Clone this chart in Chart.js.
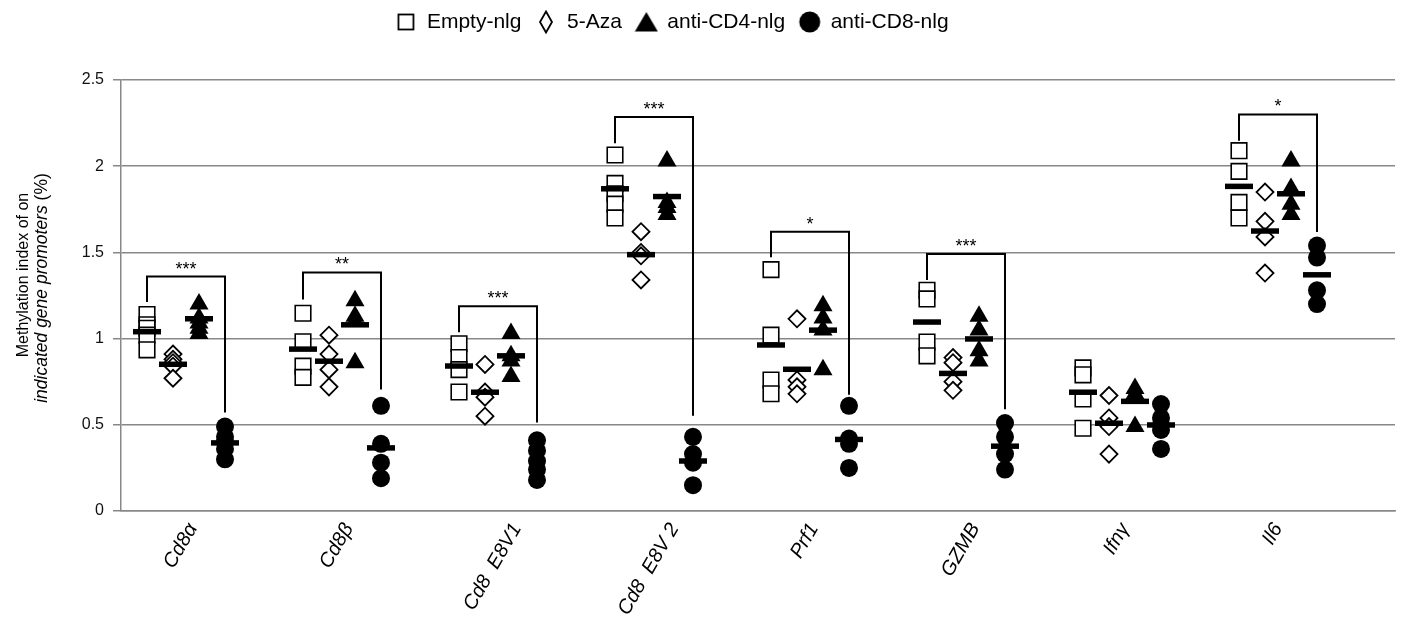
<!DOCTYPE html>
<html>
<head>
<meta charset="utf-8">
<script src="https://cdn.jsdelivr.net/npm/chart.js@4/dist/chart.umd.min.js"></script>
<style>
html,body{margin:0;padding:0;background:#fff;}
#wrap{width:1408px;height:623px;}
</style>
</head>
<body>
<div id="wrap"><canvas id="c"></canvas></div>
<script>
// genes on the x axis
const categories = ['Cd8α','Cd8β','Cd8  E8V1','Cd8  E8V 2','Prf1','GZMB','Ifnγ','Il6'];
const seriesNames = ['Empty-nlg','5-Aza','anti-CD4-nlg','anti-CD8-nlg'];
const yTicks = [0,0.5,1,1.5,2,2.5];

// individual mice, one list per gene
const emptyNlg = [
  [1.14,1.08,1.06,1.02,0.935],
  [1.147,0.982,0.84,0.775],
  [0.97,0.89,0.82,0.69],
  [2.065,1.90,1.84,1.78,1.70],
  [1.40,1.02,0.76,0.68],
  [1.28,1.23,0.98,0.90],
  [0.83,0.79,0.65,0.48],
  [2.09,1.97,1.79,1.70]
];
const aza = [
  [0.91,0.88,0.86,0.84,0.77],
  [1.02,0.91,0.82,0.72],
  [0.85,0.69,0.66,0.55],
  [1.62,1.50,1.48,1.34],
  [1.115,0.76,0.72,0.68],
  [0.89,0.86,0.75,0.70],
  [0.67,0.54,0.49,0.33],
  [1.85,1.68,1.59,1.38]
];
const antiCD4 = [
  [1.20,1.12,1.09,1.06,1.03],
  [1.22,1.13,1.10,0.86],
  [1.03,0.90,0.87,0.78],
  [2.03,1.79,1.76,1.72],
  [1.19,1.12,1.05,0.82],
  [1.13,1.05,0.93,0.87],
  [0.71,0.68,0.66,0.49],
  [2.03,1.87,1.78,1.72]
];
const antiCD8 = [
  [0.49,0.43,0.40,0.36,0.30],
  [0.61,0.39,0.28,0.19],
  [0.41,0.35,0.29,0.24,0.18],
  [0.43,0.33,0.28,0.15],
  [0.61,0.42,0.39,0.25],
  [0.51,0.43,0.33,0.24],
  [0.62,0.54,0.50,0.47,0.36],
  [1.54,1.47,1.28,1.20]
];

// mean bars (null = not drawn)
const emptyMean = [1.04,0.939,0.841,1.869,0.963,1.096,0.689,1.883];
const azaMean   = [0.851,0.869,0.689,1.487,0.822,0.798,0.509,1.624];
const cd4Mean   = [1.115,1.08,0.90,1.824,1.049,0.998,0.636,1.84];
const cd8Mean   = [0.395,0.366,null,0.29,0.415,0.376,0.499,1.37];

// significance brackets Empty-nlg vs anti-CD8-nlg
const bracketLeft  = [1.213,1.227,1.037,2.133,1.472,1.34,null,2.147];
const bracketTop   = [1.36,1.384,1.188,2.286,1.62,1.49,null,2.30];
const bracketRight = [0.571,0.705,0.513,0.552,0.675,0.59,null,1.618];
const bracketStars = ['***','**','***','***','*','***','','*'];

const SLOT = 6; // x units per gene, 4 groups + gap
const FONT = '"Liberation Sans", Arial, sans-serif';

function pts(g, lists){
  return lists.flatMap((arr,i)=>arr.map(v=>({x:i*SLOT+g, y:v})));
}
function meanPts(g, means){
  return means.map((v,i)=> v==null ? null : {x:i*SLOT+g, y:v}).filter(Boolean);
}

function icon(kind){
  const c = document.createElement('canvas');
  c.width = 24; c.height = 24;
  const x = c.getContext('2d');
  x.lineWidth = 1.8; x.strokeStyle = '#000'; x.fillStyle = '#000';
  if(kind==='sq'){ x.strokeRect(4.5,4.5,15,15); }
  if(kind==='dia'){ x.beginPath(); x.moveTo(12,1.5); x.lineTo(18,12); x.lineTo(12,22.5); x.lineTo(6,12); x.closePath(); x.stroke(); }
  if(kind==='tri'){ x.beginPath(); x.moveTo(12,2); x.lineTo(23.5,21.5); x.lineTo(0.5,21.5); x.closePath(); x.fill(); }
  if(kind==='cir'){ x.beginPath(); x.arc(12,12,10.5,0,Math.PI*2); x.fill(); }
  return c;
}
const legendIcons = [icon('sq'),icon('dia'),icon('tri'),icon('cir')];

const datasets = [];
const meanStyle = {type:'scatter', pointStyle:'line', pointRadius:14, pointBorderWidth:5.5,
  borderColor:'#000', backgroundColor:'#000', order:0};
[emptyMean,azaMean,cd4Mean,cd8Mean].forEach((m,g)=>{
  datasets.push(Object.assign({label:'mean'+g, data:meanPts(g,m)}, meanStyle));
});
categories.forEach((c,i)=>{
  if(bracketTop[i]==null) return;
  datasets.push({type:'scatter', label:'bracket'+i, showLine:true, pointRadius:0,
    borderColor:'#000', borderWidth:2, order:1,
    data:[{x:i*SLOT, y:bracketLeft[i]},{x:i*SLOT, y:bracketTop[i]},
          {x:i*SLOT+3, y:bracketTop[i]},{x:i*SLOT+3, y:bracketRight[i]}]});
});
datasets.push({type:'scatter', label:seriesNames[3], data:pts(3,antiCD8), pointStyle:'circle',
  pointRadius:9, backgroundColor:'#000', borderColor:'#000', borderWidth:0, order:2});
datasets.push({type:'scatter', label:seriesNames[2], data:pts(2,antiCD4), pointStyle:'triangle',
  pointRadius:11, backgroundColor:'#000', borderColor:'#000', borderWidth:0, order:3});
datasets.push({type:'scatter', label:seriesNames[1], data:pts(1,aza), pointStyle:'rectRot',
  pointRadius:8.5, backgroundColor:'#fff', borderColor:'#000', borderWidth:1.8, order:4});
datasets.push({type:'scatter', label:seriesNames[0], data:pts(0,emptyNlg), pointStyle:'rect',
  pointRadius:11, backgroundColor:'#fff', borderColor:'#000', borderWidth:1.6, order:5});

const placeLegend = {
  id:'placeLegend',
  afterLayout(chart){
    const lg = chart.legend;
    const dx = 672 - (lg.left+lg.right)/2;
    lg.left += dx; lg.right += dx;
    const dy = -2.5 - lg.top;
    lg.top += dy; lg.bottom += dy;
  }
};

const yTitle = {
  id:'yTitle',
  afterDraw(chart){
    const ctx = chart.ctx;
    ctx.save();
    ctx.rotate(-Math.PI/2);
    ctx.fillStyle = '#000';
    ctx.textBaseline = 'middle';
    ctx.textAlign = 'center';
    ctx.font = '16px '+FONT;
    ctx.fillText('Methylation index of on', -275, 24);
    const it = 'italic 17.5px '+FONT, up = '17.5px '+FONT;
    const a = 'indicated gene promoters ', b = '(%)';
    ctx.font = it; const wa = ctx.measureText(a).width;
    ctx.font = up; const wb = ctx.measureText(b).width;
    const x0 = -288 - (wa+wb)/2;
    ctx.textAlign = 'left';
    ctx.font = it; ctx.fillText(a, x0, 42);
    ctx.font = up; ctx.fillText(b, x0+wa, 42);
    ctx.restore();
  }
};

// rotated gene names, centred under each group
const xLabels = {
  id:'xLabels',
  afterDraw(chart){
    const ctx = chart.ctx, xs = chart.scales.x;
    const ang = 60*Math.PI/180, size = 20;
    ctx.save();
    ctx.font = 'italic '+size+'px '+FONT;
    ctx.fillStyle = '#000';
    ctx.textAlign = 'center';
    ctx.textBaseline = 'middle';
    categories.forEach((c,i)=>{
      const w = ctx.measureText(c).width;
      const dy = w*Math.sin(ang) + size*Math.cos(ang);
      const cx = xs.getPixelForValue(i*SLOT+1.3);
      const cy = xs.top + 9 + dy/2;
      ctx.save(); ctx.translate(cx,cy); ctx.rotate(-ang); ctx.fillText(c,0,0); ctx.restore();
    });
    ctx.restore();
  }
};

const stars = {
  id:'stars',
  afterDatasetsDraw(chart){
    const ctx = chart.ctx, xs = chart.scales.x, ys = chart.scales.y;
    ctx.save();
    ctx.fillStyle = '#000';
    ctx.font = '18px '+FONT;
    ctx.textAlign = 'center';
    ctx.textBaseline = 'middle';
    categories.forEach((c,i)=>{
      if(!bracketStars[i]) return;
      ctx.fillText(bracketStars[i], xs.getPixelForValue(i*SLOT+1.5), ys.getPixelForValue(bracketTop[i]) - 7);
    });
    ctx.restore();
  }
};

new Chart(document.getElementById('c'), {
  type:'scatter',
  data:{datasets},
  options:{
    responsive:true,
    maintainAspectRatio:false,
    animation:false,
    events:[],
    layout:{autoPadding:false, padding:{left:0, right:13, top:35, bottom:0}},
    plugins:{
      tooltip:{enabled:false},
      legend:{
        position:'top',
        labels:{
          usePointStyle:true,
          boxWidth:22, boxHeight:21,
          padding:14,
          color:'#000',
          font:{family:FONT, size:21},
          generateLabels:()=>seriesNames.map((n,i)=>({text:n, pointStyle:legendIcons[i],
            fillStyle:'#000', strokeStyle:'#000', lineWidth:0, hidden:false, datasetIndex:i}))
        }
      }
    },
    scales:{
      x:{
        type:'linear', min:-1, max:48,
        grid:{display:false, drawTicks:false},
        border:{display:true, color:'#888', width:1.5},
        afterFit:s=>{ s.height = 112; },
        ticks:{display:false}
      },
      y:{
        min:yTicks[0], max:yTicks[yTicks.length-1],
        afterFit:s=>{ s.width = 121; },
        afterBuildTicks:s=>{ s.ticks = yTicks.map(v=>({value:v})); },
        grid:{color:'#888', lineWidth:1.5, tickLength:8, drawTicks:true},
        border:{display:true, color:'#888', width:1.5},
        ticks:{color:'#111', padding:9, font:{family:FONT, size:16}, callback:v=>String(v)}
      }
    }
  },
  plugins:[placeLegend, yTitle, xLabels, stars]
});
</script>
</body>
</html>
